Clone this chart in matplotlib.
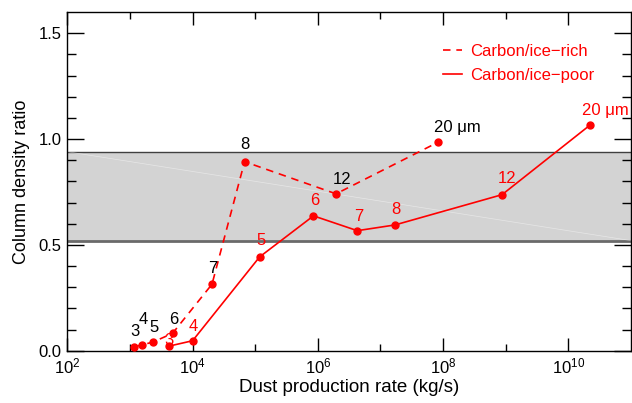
import matplotlib
matplotlib.use('Agg')
import matplotlib.pyplot as plt
import numpy as np
from matplotlib.ticker import FixedLocator, NullFormatter

# Font settings, Helvetica-like.
plt.rcParams['font.family'] = ['Liberation Sans', 'DejaVu Sans']
plt.rcParams['mathtext.fontset'] = 'custom'
plt.rcParams['mathtext.rm'] = 'Liberation Sans'
plt.rcParams['mathtext.it'] = 'Liberation Sans:italic'

# Carbon/ice-rich (dashed) series.
rich_rate = [10**3.07, 10**3.19, 10**3.37, 10**3.68, 10**4.31, 10**4.83,
             10**6.29, 10**7.92]
rich_ratio = [0.019, 0.027, 0.041, 0.082, 0.314, 0.893, 0.741, 0.985]
rich_labels = ['3', '4', '5', '6', '7', '8', '12', '20 μm']

# Carbon/ice-poor (solid) series.
poor_rate = [10**3.63, 10**4.0, 10**5.07, 10**5.93, 10**6.63, 10**7.23,
             10**8.94, 10**10.35]
poor_ratio = [0.022, 0.047, 0.443, 0.637, 0.567, 0.594, 0.737, 1.067]
poor_labels = ['3', '4', '5', '6', '7', '8', '12', '20 μm']

# Observed range (gray band).
band_low = 0.52
band_high = 0.94

# Label offsets in points.
rich_offsets = [(0.5, 11), (0.7, 18.5), (0.7, 10.5), (1, 10), (0.7, 11),
                (0.5, 12), (4.7, 10.5), (13.7, 10.8)]
poor_offsets = [(0, 4.3), (0.4, 10.5), (0.7, 11.5), (1, 10.8), (0.7, 10.5),
                (0.5, 10.8), (3.6, 11.8), (10.8, 10.3)]

fig = plt.figure(figsize=(6.32, 4.03), dpi=100)
ax = fig.add_axes([0.1065, 0.1298, 0.892, 0.8404])

ax.set_xscale('log')
ax.set_xlim(1e2, 1e11)
ax.set_ylim(0, 1.6)

# Gray band with its edge lines.
ax.axhspan(band_low, band_high, color='lightgray', lw=0, zorder=0)
ax.axhline(band_high, color='#404040', lw=1.0, zorder=1)
ax.axhline(band_low, color='#6a6a6a', lw=2.0, zorder=1)
ax.plot([1e2, 1e11], [band_high, band_low], color='white', lw=0.5,
        alpha=0.45, zorder=1)

# Lines with dots.
ax.plot(rich_rate, rich_ratio, '--', color='red', lw=1.2, dashes=(4.5, 3.5),
        marker='o', ms=5, label='Carbon/ice\u2212rich', zorder=3)
ax.plot(poor_rate, poor_ratio, '-', color='red', lw=1.2,
        marker='o', ms=5, label='Carbon/ice\u2212poor', zorder=3)

# Size labels.
for x, y, t, off in zip(rich_rate, rich_ratio, rich_labels, rich_offsets):
    ax.annotate(t, (x, y), xytext=off, textcoords='offset points',
                ha='center', va='center', fontsize=12, color='black')
for x, y, t, off in zip(poor_rate, poor_ratio, poor_labels, poor_offsets):
    ax.annotate(t, (x, y), xytext=off, textcoords='offset points',
                ha='center', va='center', fontsize=12, color='red')

# Legend without frame, red text, marker hidden.
leg = ax.legend(loc='upper left', bbox_to_anchor=(0.6665, 0.906),
                frameon=False, fontsize=12, handlelength=1.15,
                handletextpad=0.5, labelspacing=0.56, borderpad=0,
                borderaxespad=0, labelcolor='red')
for h in leg.legend_handles:
    h.set_marker('')

# Ticks.
ax.xaxis.set_major_locator(FixedLocator([1e2, 1e4, 1e6, 1e8, 1e10]))
ax.xaxis.set_minor_locator(FixedLocator([1e3, 1e5, 1e7, 1e9]))
ax.xaxis.set_minor_formatter(NullFormatter())
ax.set_xticklabels(['$10^{2}$', '$10^{4}$', '$10^{6}$', '$10^{8}$',
                    '$10^{10}$'])
ax.set_yticks([0, 0.5, 1.0, 1.5])
ax.set_yticklabels(['0.0', '0.5', '1.0', '1.5'])
ax.yaxis.set_minor_locator(FixedLocator(np.arange(0.1, 1.6, 0.1)))
ax.tick_params(which='both', direction='in', top=True, right=True,
               labelsize=12, color='black')
ax.tick_params(axis='y', which='major', length=12.5, width=1.0, pad=4)
ax.tick_params(axis='y', which='minor', length=6.3, width=1.0)
ax.tick_params(axis='x', which='major', length=9.5, width=1.0, pad=4)
ax.tick_params(axis='x', which='minor', length=5.3, width=1.0)
for s in ax.spines.values():
    s.set_linewidth(1.0)

ax.set_xlabel('Dust production rate (kg/s)', fontsize=13.5, labelpad=2)
ax.set_ylabel('Column density ratio', fontsize=13, labelpad=6)

fig.savefig('out.png', dpi=100)
